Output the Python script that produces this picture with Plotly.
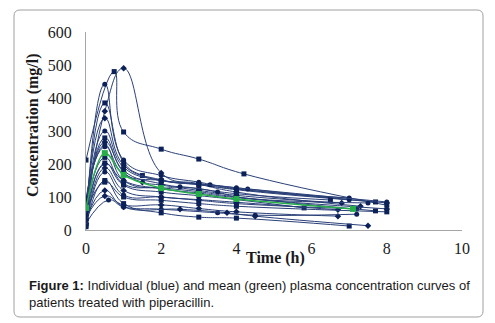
import plotly.graph_objects as go

# ---------------- data ----------------
patient_times = [
    [0, 0.75, 1, 2, 3, 4.2, 8],
    [0, 0.5, 1, 2, 3, 4, 7.3],
    [0, 0.5, 1, 2, 3, 4, 7],
    [0, 0.5, 1, 1.5, 2, 3, 4, 7.7],
    [0, 0.5, 1, 2, 3, 4, 8],
    [0, 0.5, 1, 2, 3.3, 4.3, 7],
    [0, 0.5, 1, 2, 3, 4, 6.5],
    [0, 0.5, 1, 1.5, 2, 3, 4, 6.8],
    [0, 0.5, 1, 2, 2.5, 3.5, 4, 7.5],
    [0, 0.5, 1, 2, 3, 4, 5.8],
    [0, 0.5, 1, 2, 3, 4, 6.7],
    [0, 0.5, 1, 2, 3, 4, 7.2],
    [0, 0.5, 1, 2, 3, 4, 8],
    [0, 0.5, 1, 2, 3, 4, 6.7],
    [0, 0.6, 1, 2, 3.5, 4.5, 7.2],
    [0, 0.5, 1, 2, 3, 4, 7],
    [0, 0.5, 1, 2.5, 3.75, 4.5, 7.5],
    [0, 0.5, 1, 2, 3, 4, 8],
    [0, 0.5, 1, 2, 3, 4, 7.7],
    [0, 0.5, 1, 2, 3, 4, 8],
]
patient_conc = [
    [212, 480, 297, 245, 215, 170, 75],
    [20, 360, 490, 173, 140, 115, 72],
    [30, 442, 212, 165, 145, 125, 97],
    [50, 385, 205, 165, 150, 138, 122, 85],
    [70, 339, 197, 152, 137, 124, 82],
    [60, 300, 190, 150, 137, 124, 92],
    [40, 279, 180, 140, 125, 110, 91],
    [80, 267, 175, 145, 136, 120, 105, 82],
    [90, 258, 150, 127, 131, 115, 100, 82],
    [25, 203, 136, 115, 104, 92, 67],
    [15, 188, 120, 100, 92, 84, 61],
    [10, 176, 106, 100, 90, 80, 64],
    [52, 145, 100, 90, 80, 72, 55],
    [35, 103, 76, 76, 65, 55, 42],
    [20, 91, 70, 63, 52, 45, 48],
    [10, 150, 80, 52, 39, 36, 12],
    [30, 120, 70, 63, 52, 42, 13],
    [97, 252, 170, 150, 140, 128, 85],
    [60, 220, 140, 128, 116, 100, 58],
    [45, 200, 150, 125, 112, 98, 64],
]
mean_times = [0, 0.5, 1, 2, 3, 4, 7.1]
mean_conc = [67, 233, 167, 127, 109, 94, 64]

x_ticks = [0, 2, 4, 6, 8, 10]
y_ticks = [0, 100, 200, 300, 400, 500, 600]

# ---------------- layout geometry ----------------
# page offset introduced by the default body margin of the html page
OFF = 8
W, H = 495, 323
# target plot area on the page: x 86..462, y 32..230
L = 86 - OFF
T = 32 - OFF
R = W - (462 - OFF)
B = H - (230 - OFF)
PW, PH = W - L - R, H - T - B


def px(x):  # page pixel -> paper x
    return (x - OFF - L) / PW


def py(y):  # page pixel -> paper y
    return (H - B - (y - OFF)) / PH


NAVY_LINE = "#2a4078"
NAVY_MARK = "#0c2158"
GREEN = "#27ae4a"
symbols = ["square", "diamond", "circle"]

fig = go.Figure()
for i, (t, c) in enumerate(zip(patient_times, patient_conc)):
    fig.add_trace(go.Scatter(
        x=t, y=c, mode="lines+markers",
        line=dict(color=NAVY_LINE, width=1, shape="spline", smoothing=1.3),
        marker=dict(color=NAVY_MARK, size=5, symbol=symbols[i % 3]),
        showlegend=False, hoverinfo="skip",
    ))

fig.add_trace(go.Scatter(
    x=mean_times, y=mean_conc, mode="lines+markers",
    line=dict(color=GREEN, width=1.5, shape="spline", smoothing=1),
    marker=dict(color=GREEN, size=6, symbol="square"),
    showlegend=False, hoverinfo="skip",
))

# rounded border box (page pixels)
x0, y0, x1, y1, r = 14, 10, 483, 317, 6
path = (
    f"M {px(x0 + r)},{py(y0)} L {px(x1 - r)},{py(y0)} "
    f"Q {px(x1)},{py(y0)} {px(x1)},{py(y0 + r)} "
    f"L {px(x1)},{py(y1 - r)} Q {px(x1)},{py(y1)} {px(x1 - r)},{py(y1)} "
    f"L {px(x0 + r)},{py(y1)} Q {px(x0)},{py(y1)} {px(x0)},{py(y1 - r)} "
    f"L {px(x0)},{py(y0 + r)} Q {px(x0)},{py(y0)} {px(x0 + r)},{py(y0)} Z"
)

serif = "Liberation Serif, Times New Roman, serif"
sans = "Liberation Sans, Arial, sans-serif"

fig.update_layout(
    width=W, height=H, autosize=False,
    margin=dict(l=L, r=R, t=T, b=B, pad=0),
    paper_bgcolor="white", plot_bgcolor="white",
    xaxis=dict(
        range=[0, 10], tickvals=x_ticks, ticktext=[str(v) for v in x_ticks],
        showgrid=False, zeroline=False, showline=True, linecolor="#a6a6a6",
        linewidth=1, ticks="", ticklabelstandoff=4,
        tickfont=dict(family=serif, size=16, color="#1a1a1a"),
    ),
    yaxis=dict(
        range=[0, 600], tickvals=y_ticks, ticktext=[str(v) for v in y_ticks],
        showgrid=False, zeroline=False, showline=True, linecolor="#a6a6a6",
        linewidth=1, ticks="", ticklabelstandoff=10,
        tickfont=dict(family=serif, size=16, color="#1a1a1a"),
    ),
    shapes=[dict(type="path", xref="paper", yref="paper", path=path,
                 line=dict(color="#a0a0a0", width=1), layer="below")],
    annotations=[
        dict(text="<b>Concentration (mg/l)</b>", textangle=-90,
             xref="paper", yref="paper", x=px(33), y=py(125),
             xanchor="center", yanchor="middle", showarrow=False,
             font=dict(family=serif, size=16, color="#1a1a1a")),
        dict(text="<b>Time (h)</b>",
             xref="paper", yref="paper", x=px(275), y=py(258),
             xanchor="center", yanchor="middle", showarrow=False,
             bgcolor="white",
             font=dict(family=serif, size=16, color="#1a1a1a")),
        dict(text="<b>Figure 1:</b> Individual (blue) and mean (green) plasma concentration curves of<br>patients treated with piperacillin.",
             xref="paper", yref="paper", x=px(27), y=py(276),
             xanchor="left", yanchor="top", align="left", showarrow=False,
             font=dict(family=sans, size=13, color="#1a1a1a")),
    ],
)

fig.write_html("out.html")
